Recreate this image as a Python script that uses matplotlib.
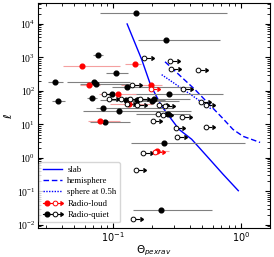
import matplotlib
matplotlib.use('Agg')
import matplotlib.pyplot as plt
from matplotlib.lines import Line2D
from matplotlib.legend_handler import HandlerBase
from matplotlib.ticker import NullFormatter
import numpy as np

plt.rcParams['font.family'] = 'serif'
plt.rcParams['font.serif'] = ['Liberation Serif', 'DejaVu Serif']
plt.rcParams['mathtext.fontset'] = 'dejavusans'

# model curves
slab_x = [0.129, 0.168, 0.197, 0.240, 0.328, 0.412, 0.540, 0.723, 0.953]
slab_y = [10000, 850, 147, 35, 7.1, 3.6, 1.14, 0.327, 0.105]
hemi_x = [0.255, 0.437, 0.711, 0.866, 1.04, 1.41]
hemi_y = [743, 110, 16, 7.1, 4.4, 2.9]
sph_x = [0.240, 0.424, 0.593]
sph_y = [306, 69, 28]

# radio-quiet detections (x, y, x range)
rq_x = [0.151, 0.076, 0.259, 0.1055, 0.0352, 0.0714, 0.0736, 0.128, 0.0686, 0.0374, 0.1256,
        0.154, 0.084, 0.1108, 0.0871, 0.2754, 0.2017, 0.209, 0.267, 0.252, 0.236, 0.0987]
rq_y = [21200, 1200, 3345, 343, 180, 180, 162, 128, 63.4, 51.6, 55.2,
        55.2, 30.5, 25.5, 11.5, 81.6, 51.6, 57.2, 19.8, 2.79, 0.0279, 80]
rq_lo = [0.079, 0.0698, 0.157, 0.0882, 0.031, 0.0437, 0.0552, 0.098, 0.0627, 0.0334, 0.0791,
         0.10, 0.074, 0.058, 0.0661, 0.14, 0.13, 0.12, 0.15, 0.139, 0.1441, 0.09]
rq_hi = [0.777, 0.0835, 0.685, 0.131, 0.0407, 0.136, 0.146, 0.40, 0.075, 0.0422, 0.2128,
         0.255, 0.29, 0.41, 0.1358, 0.72, 0.33, 0.40, 0.40, 1.074, 0.59, 0.11]

# radio-loud detections
rl_x = [0.1486, 0.0569, 0.0653, 0.1088, 0.1327, 0.0796, 0.197, 0.2218]
rl_y = [635, 539, 147, 81.6, 41, 12.5, 147, 1.66]
rl_lo = [0.125, 0.0407, 0.0552, 0.0778, 0.0948, 0.0638, 0.115, 0.20]
rl_hi = [0.165, 0.1134, 0.0791, 0.15, 0.2, 0.1134, 0.24, 0.275]

# lower limits
rl_lim_x = [0.197, 0.2128]
rl_lim_y = [115, 1.55]
rq_lim_x = [0.1746, 0.2787, 0.284, 0.4637, 0.142, 0.354, 0.0855, 0.0936, 0.1155, 0.1365,
            0.1625, 0.154, 0.128, 0.23, 0.255, 0.487, 0.53, 0.226, 0.247, 0.3478, 0.2043,
            0.309, 0.53, 0.318, 0.1725, 0.1513, 0.1441]
rq_lim_y = [977, 759, 460, 430, 147, 115, 81.6, 57.2, 57.2, 57.2,
            57.2, 38, 40.6, 37.9, 35, 47.2, 37.9, 19.8, 18.5, 16.9, 12.9,
            7.98, 8.43, 4.31, 1.41, 0.43, 0.0151]

x_ticks = [0.1, 1.0]
x_ticklabels = [r'$10^{-1}$', r'$10^{0}$']

MS = 3.4
ARROW = 1.13


def plot_detections(ax, x, y, lo, hi, color, ecolor):
    x = np.array(x)
    xerr = [x - np.array(lo), np.array(hi) - x]
    ax.errorbar(x, y, xerr=xerr, fmt='o', color=color, ecolor=ecolor,
                elinewidth=0.8, ms=MS, capsize=0, zorder=3)


def plot_limits(ax, x, y, color):
    x = np.array(x)
    y = np.array(y)
    ax.hlines(y, x, x * ARROW, color=color, lw=0.8, zorder=3)
    ax.plot(x * ARROW, y, ls='none', marker=9, ms=3.2, color=color, zorder=3)
    ax.plot(x, y, ls='none', marker='o', ms=MS, mfc='white', mec=color,
            mew=0.7, zorder=4)


class LimitHandler(HandlerBase):
    def __init__(self, color):
        super().__init__()
        self.color = color

    def create_artists(self, legend, orig_handle, xdescent, ydescent,
                       width, height, fontsize, trans):
        x0 = -xdescent
        y = (height - ydescent) / 2
        arts = [Line2D([x0, x0 + 0.88 * width], [y, y], color=self.color, lw=0.8),
                Line2D([x0 + 0.88 * width], [y], marker=9, ms=3.2, color=self.color, ls='none'),
                Line2D([x0 + 0.2 * width], [y], marker='o', ms=MS, color=self.color, ls='none'),
                Line2D([x0 + 0.62 * width], [y], marker='o', ms=MS, mfc='white',
                       mec=self.color, mew=0.7, ls='none')]
        for a in arts:
            a.set_transform(trans)
        return arts


fig = plt.figure(figsize=(2.74, 2.57), dpi=100)
ax = fig.add_axes([0.139, 0.113, 0.847, 0.875])

ax.plot(slab_x, slab_y, color='blue', lw=1.0, zorder=2)
ax.plot(hemi_x, hemi_y, color='blue', lw=1.0, ls=(0, (4, 2)), zorder=2)
ax.plot(sph_x, sph_y, color='blue', lw=1.0, ls=(0, (1, 1)), zorder=2)

plot_detections(ax, rq_x, rq_y, rq_lo, rq_hi, 'black', 'gray')
plot_detections(ax, rl_x, rl_y, rl_lo, rl_hi, 'red', '#f4a0a0')
plot_limits(ax, rq_lim_x, rq_lim_y, 'black')
plot_limits(ax, rl_lim_x, rl_lim_y, 'red')

ax.set_xscale('log')
ax.set_yscale('log')
ax.set_xlim(0.026, 1.69)
ax.set_ylim(0.0081, 4.2e4)
ax.set_xticks(x_ticks, x_ticklabels)
ax.xaxis.set_minor_formatter(NullFormatter())
ax.tick_params(which='both', direction='in', top=True, right=True, labelsize=7)
ax.tick_params(which='major', length=3.5)
ax.tick_params(which='minor', length=2)
ax.tick_params(axis='x', pad=1.5)
ax.tick_params(axis='y', pad=2)
ax.set_xlabel(r'$\Theta_{pexrav}$', fontsize=7.5, labelpad=0)
ax.set_ylabel(r'$\ell$', fontsize=8, labelpad=2)

h_slab = Line2D([], [], color='blue', lw=1.0)
h_hemi = Line2D([], [], color='blue', lw=1.0, ls=(0, (4, 2)))
h_sph = Line2D([], [], color='blue', lw=1.0, ls=(0, (1, 1)))
h_rl = object()
h_rq = object()
ax.legend([h_slab, h_hemi, h_sph, h_rl, h_rq],
          ['slab', 'hemisphere', 'sphere at 0.5h', 'Radio-loud', 'Radio-quiet'],
          handler_map={h_rl: LimitHandler('red'), h_rq: LimitHandler('black')},
          loc='lower left', bbox_to_anchor=(0.005, 0.025), borderaxespad=0,
          fontsize=6.3, handlelength=2.2, handletextpad=0.6, labelspacing=0.35,
          borderpad=0.4)

fig.savefig('out.png', dpi=100)
